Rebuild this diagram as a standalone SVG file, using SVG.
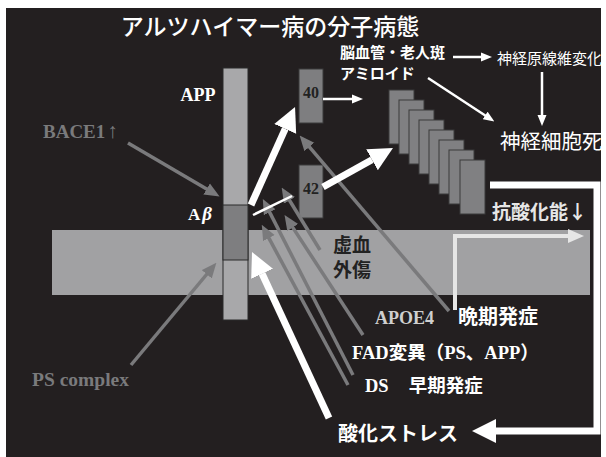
<svg xmlns="http://www.w3.org/2000/svg" width="606" height="457" viewBox="0 0 606 457">
<style>
.jp{font-family:"Noto Sans CJK JP","Noto Sans",sans-serif;}
.ser{font-family:"Liberation Serif","Noto Sans CJK JP",serif;font-weight:bold;}
.wb{fill:#ffffff;font-weight:bold;}
.gray{stroke:#7a7a7c;stroke-width:3.5;fill:none;}
.thin{stroke:#ffffff;stroke-width:2.5;fill:none;}
.thick{stroke:#ffffff;stroke-width:7;fill:none;}
.card{fill:#808082;stroke:#3a3a3a;stroke-width:1;}
</style>
<defs>
<marker id="hBig" markerUnits="userSpaceOnUse" viewBox="0 -13 25 26" refX="0" refY="0" markerWidth="25" markerHeight="26" orient="auto"><path d="M0,-12 L24,0 L0,12 z" fill="#ffffff"/></marker>
<marker id="hThin" markerUnits="userSpaceOnUse" viewBox="0 -5 11 10" refX="1" refY="0" markerWidth="11" markerHeight="10" orient="auto"><path d="M0,-4.5 L11,0 L0,4.5 z" fill="#ffffff"/></marker>
<marker id="hGray" markerUnits="userSpaceOnUse" viewBox="0 -7 15 14" refX="1" refY="0" markerWidth="15" markerHeight="14" orient="auto"><path d="M0,-6.5 L15,0 L0,6.5 z" fill="#7a7a7c"/></marker>
<marker id="hLight" markerUnits="userSpaceOnUse" viewBox="0 -7 16 14" refX="1" refY="0" markerWidth="16" markerHeight="14" orient="auto"><path d="M0,-7 L16,0 L0,7 z" fill="#e6e6e6"/></marker>
</defs>
<rect x="0" y="0" width="606" height="457" fill="#ffffff"/>
<rect x="6" y="8" width="595" height="449" fill="#231f20"/>

<text class="jp" x="270" y="35" font-size="23" fill="#ffffff" font-weight="500" text-anchor="middle">アルツハイマー病の分子病態</text>

<g id="membrane"><rect x="52" y="230" width="538" height="65" fill="#a1a1a3"/></g>

<g id="app">
<rect x="223" y="68" width="25" height="252" fill="#a8a8aa" stroke="#2a2a2a" stroke-width="1"/>
<rect x="223" y="205" width="25" height="55" fill="#7e7e80" stroke="#2a2a2a" stroke-width="1"/>
<text class="ser" x="198" y="101" font-size="18" fill="#ffffff" text-anchor="middle">APP</text>
<text x="188" y="220" font-size="17" fill="#ffffff"><tspan class="ser">A</tspan><tspan font-family="Liberation Serif,serif" font-style="italic" font-weight="bold" font-size="19" dx="2">β</tspan></text>
</g>

<g id="ab40"><rect x="299" y="69" width="24" height="54" fill="#7e7e80" stroke="#3a3a3a"/><text class="ser" x="311" y="98" font-size="16" fill="#222" text-anchor="middle">40</text></g>
<g id="ab42"><rect x="299" y="165" width="24" height="53" fill="#7e7e80" stroke="#3a3a3a"/><text class="ser" x="311" y="194" font-size="16" fill="#222" text-anchor="middle">42</text></g>

<g id="stack">
<rect class="card" x="389" y="90" width="25" height="54"/>
<rect class="card" x="399" y="100" width="25" height="54"/>
<rect class="card" x="409" y="110" width="25" height="54"/>
<rect class="card" x="419" y="120" width="25" height="54"/>
<rect class="card" x="429" y="130" width="25" height="54"/>
<rect class="card" x="439" y="140" width="25" height="54"/>
<rect class="card" x="449" y="150" width="25" height="54"/>
<rect class="card" x="460" y="160" width="25" height="54"/>
</g>

<g id="labels">
<text class="jp wb" x="340" y="58" font-size="15">脳血管・老人斑</text>
<text class="jp wb" x="340" y="79" font-size="15">アミロイド</text>
<text class="jp" x="497" y="64" font-size="15" fill="#ffffff">神経原線維変化</text>
<text class="jp" x="500" y="149" font-size="20.5" fill="#ffffff">神経細胞死</text>
<text class="jp" x="492" y="219" font-size="19" fill="#e6e6e6" font-weight="bold">抗酸化能↓</text>
<text class="jp" x="333" y="252" font-size="19" fill="#222" font-weight="bold">虚血</text>
<text class="jp" x="333" y="277" font-size="19" fill="#222" font-weight="bold">外傷</text>
<text class="ser" x="43" y="138" font-size="19" fill="#7a7a7c">BACE1<tspan font-family="Noto Sans,sans-serif" font-size="21" dx="2">↑</tspan></text>
<text class="ser" x="32" y="386" font-size="19.5" fill="#7a7a7c">PS complex</text>
<text class="ser" x="375" y="324" font-size="18" fill="#cfcfcf">APOE4</text>
<text class="jp wb" x="458" y="324" font-size="20">晩期発症</text>
<text class="ser" x="352" y="359" font-size="18.5" fill="#ffffff">FAD<tspan class="jp">変異（</tspan>PS<tspan class="jp">、</tspan>APP<tspan class="jp">）</tspan></text>
<text class="ser" x="365" y="392" font-size="18.5" fill="#ffffff">DS<tspan class="jp" dx="20">早期発症</tspan></text>
<text class="jp wb" x="338" y="441" font-size="20">酸化ストレス</text>
</g>

<g id="connectors">
<line class="gray" x1="128" y1="143" x2="207.5" y2="189.5" marker-end="url(#hGray)"/>
<line class="gray" x1="131" y1="365" x2="207.4" y2="273.5" marker-end="url(#hGray)"/>
<line class="gray" x1="449" y1="311" x2="308.7" y2="146.2" marker-end="url(#hGray)"/>
<line class="gray" x1="320" y1="250" x2="289" y2="199.5" marker-end="url(#hGray)"/>
<line class="gray" x1="363" y1="335" x2="292.2" y2="226.6" marker-end="url(#hGray)"/>
<line class="gray" x1="353" y1="375" x2="269.2" y2="211.4" marker-end="url(#hGray)"/>
<line class="gray" x1="348" y1="385" x2="268.4" y2="237.2" marker-end="url(#hGray)"/>
<line class="thin" x1="253" y1="215" x2="292" y2="196"/>
<line class="thick" x1="251" y1="205" x2="285.2" y2="128.9" marker-end="url(#hBig)"/>
<line class="thick" x1="323" y1="187" x2="372" y2="159.7" marker-end="url(#hBig)"/>
<line class="thick" x1="329" y1="418" x2="262.1" y2="273.8" marker-end="url(#hBig)"/>
<path class="thick" d="M490,185 H597 V431 H496" marker-end="url(#hBig)"/>
<path d="M455,310 V236 H569" fill="none" stroke="#e6e6e6" stroke-width="4" marker-end="url(#hLight)"/>
<line class="thin" x1="323" y1="99" x2="353" y2="99" marker-end="url(#hThin)"/>
<line class="thin" x1="453" y1="57" x2="482" y2="57" marker-end="url(#hThin)"/>
<line class="thin" x1="542" y1="72" x2="542" y2="116" marker-end="url(#hThin)"/>
<line class="thin" x1="428" y1="78" x2="486" y2="116" marker-end="url(#hThin)"/>
</g>
</svg>
